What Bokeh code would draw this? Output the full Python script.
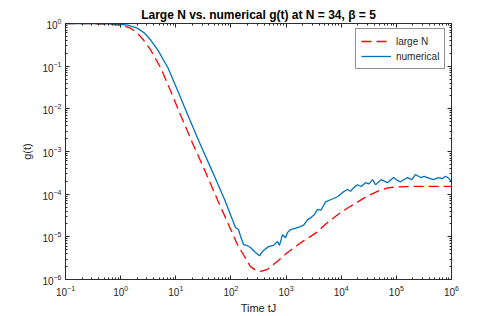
from bokeh.plotting import figure
from bokeh.models import LogAxis, FixedTicker, Legend, LegendItem, CustomJSTickFormatter
from bokeh.embed import file_html
from bokeh.resources import INLINE

# ---- data ----
x_ticks = [1e-1, 1e0, 1e1, 1e2, 1e3, 1e4, 1e5, 1e6]
y_ticks = [1e-6, 1e-5, 1e-4, 1e-3, 1e-2, 1e-1, 1e0]

largeN_t = [0.1, 0.3, 0.6, 1.0, 1.5, 2.0, 2.6, 3.5, 5.3, 8, 12.2, 20, 35, 57, 100,
            131, 180, 226, 280, 344, 450, 590, 800, 1060, 1400, 1820, 2700, 3700,
            5000, 7300, 1e4, 1.4e4, 2e4, 3e4, 5e4, 7e4, 1e5, 1.5e5, 2e5, 5e5, 1e6]
largeN_g = [1.0, 0.99, 0.97, 0.92, 0.78, 0.60, 0.41, 0.24, 0.092, 0.027, 7.2e-3,
            1.6e-3, 3.2e-4, 7.4e-5, 1.45e-5, 6.6e-6, 3.3e-6, 2.0e-6, 1.65e-6,
            1.55e-6, 1.7e-6, 2.24e-6, 3.1e-6, 4.3e-6, 5.6e-6, 7.2e-6, 1.0e-5,
            1.3e-5, 1.9e-5, 2.8e-5, 3.8e-5, 5.0e-5, 6.6e-5, 9.1e-5, 1.23e-4,
            1.40e-4, 1.48e-4, 1.51e-4, 1.52e-4, 1.52e-4, 1.52e-4]

num_t = [0.1, 0.3, 0.6, 1.0, 1.35, 2.0, 2.7, 3.5, 4.7, 7.2, 10.8, 16.5, 27, 47, 77,
         121, 137, 149, 169, 200, 226, 279, 330, 390, 481, 592, 700, 760, 861,
         977, 1062, 1205, 1500, 1828, 2100, 2449, 2900, 3300, 3717, 4300, 5190,
         6400, 8570, 1.06e4, 1.3e4, 1.48e4, 1.67e4, 1.98e4, 2.3e4, 2.76e4,
         3.2e4, 3.7e4, 4.2e4, 5.3e4, 6.9e4, 8.9e4, 1.05e5, 1.19e5, 1.59e5,
         1.9e5, 2.22e5, 2.74e5, 3.2e5, 3.67e5, 4.72e5, 5.82e5, 6.8e5, 7.78e5,
         8.8e5, 1.0e6]
num_g = [1.0, 0.995, 0.98, 0.96, 0.92, 0.78, 0.60, 0.41, 0.24, 0.092, 0.027,
         7.2e-3, 1.6e-3, 3.2e-4, 7.4e-5, 1.66e-5, 1.48e-5, 1.05e-5, 6.6e-6,
         6.2e-6, 5.6e-6, 4.3e-6, 3.6e-6, 4.8e-6, 5.9e-6, 6.3e-6, 7.8e-6,
         6.3e-6, 1.12e-5, 9.5e-6, 1.26e-5, 1.48e-5, 1.6e-5, 1.74e-5, 1.9e-5,
         2.5e-5, 2.9e-5, 3.4e-5, 4.4e-5, 4.2e-5, 6.6e-5, 7.4e-5, 8.7e-5,
         1.1e-4, 1.29e-4, 1.17e-4, 1.41e-4, 1.66e-4, 1.51e-4, 1.86e-4,
         1.75e-4, 2.19e-4, 1.66e-4, 2.19e-4, 1.86e-4, 2.45e-4, 2.1e-4,
         1.95e-4, 2.45e-4, 2.2e-4, 2.88e-4, 2.45e-4, 2.6e-4, 2.45e-4, 2.19e-4,
         2.45e-4, 2.3e-4, 2.63e-4, 2.4e-4, 1.95e-4]

title_text = "Large N vs. numerical g(t) at N = 34, \u03b2 = 5"
x_label = "Time tJ"
y_label = "g(t)"
legend_labels = ["large N", "numerical"]

# ---- figure ----
FONT = "Liberation Sans"
AX = "#262626"
p = figure(width=498, height=316, x_axis_type="log", y_axis_type="log",
           x_range=(1e-1, 1e6), y_range=(1e-6, 1e0),
           output_backend="svg", toolbar_location=None,
           min_border_left=65, min_border_right=47, min_border_top=23,
           min_border_bottom=36)
p.background_fill_color = "white"
p.border_fill_color = "white"
p.xgrid.visible = False
p.ygrid.visible = False
p.outline_line_color = AX
p.outline_line_width = 0.8

p.title.text = title_text
p.title.text_font = FONT
p.title.text_font_size = "12px"
p.title.text_font_style = "bold"
p.title.align = "center"
p.title.text_color = "black"
p.title.standoff = 4
p.title.offset = 0

def minor_for(ticks):
    out = []
    for d in ticks[:-1]:
        for m in [2, 3, 4, 5, 6, 7, 8, 9]:
            out.append(d * m)
    return out

xt = FixedTicker(ticks=x_ticks, minor_ticks=minor_for(x_ticks))
yt = FixedTicker(ticks=y_ticks, minor_ticks=minor_for(y_ticks))

def style_axis(ax, ticker, show_labels=True):
    ax.ticker = ticker
    ax.axis_line_color = AX
    ax.axis_line_width = 0.8
    ax.major_tick_line_color = AX
    ax.minor_tick_line_color = AX
    ax.major_tick_in = 4
    ax.major_tick_out = 0
    ax.minor_tick_in = 2
    ax.minor_tick_out = 0
    ax.major_label_text_font = FONT
    ax.major_label_text_font_size = "10px"
    ax.major_label_text_color = AX
    ax.axis_label_text_font = FONT
    ax.axis_label_text_font_size = "11px"
    ax.axis_label_text_font_style = "normal"
    ax.axis_label_text_color = AX
    if not show_labels:
        ax.formatter = CustomJSTickFormatter(code="return ''")
        ax.major_label_standoff = 0
        ax.major_label_text_font_size = "1px"

style_axis(p.xaxis[0], xt)
style_axis(p.yaxis[0], yt)
p.xaxis[0].axis_label = x_label
p.yaxis[0].axis_label = y_label
p.xaxis[0].major_label_standoff = 5
p.xaxis[0].axis_label_standoff = 3
p.yaxis[0].major_label_standoff = 4
p.yaxis[0].axis_label_standoff = 6

top_ax = LogAxis()
style_axis(top_ax, FixedTicker(ticks=x_ticks, minor_ticks=minor_for(x_ticks)), False)
p.add_layout(top_ax, "above")
right_ax = LogAxis()
style_axis(right_ax, FixedTicker(ticks=y_ticks, minor_ticks=minor_for(y_ticks)), False)
p.add_layout(right_ax, "right")

r1 = p.line(largeN_t, largeN_g, line_color="#FF0000", line_width=1.3, line_dash="10 5")
r2 = p.line(num_t, num_g, line_color="#0072BD", line_width=1.3)

legend = Legend(items=[LegendItem(label=legend_labels[0], renderers=[r1]),
                       LegendItem(label=legend_labels[1], renderers=[r2])],
                location=(290, 210))
legend.label_text_font = FONT
legend.label_text_font_size = "10px"
legend.label_text_color = AX
legend.border_line_color = AX
legend.border_line_width = 0.8
legend.background_fill_color = "white"
legend.background_fill_alpha = 1
legend.glyph_width = 30
legend.glyph_height = 14
legend.label_height = 14
legend.spacing = 1
legend.padding = 5
legend.margin = 0
legend.label_standoff = 5
p.add_layout(legend, "center")

open("out.html", "w").write(file_html(p, INLINE))
